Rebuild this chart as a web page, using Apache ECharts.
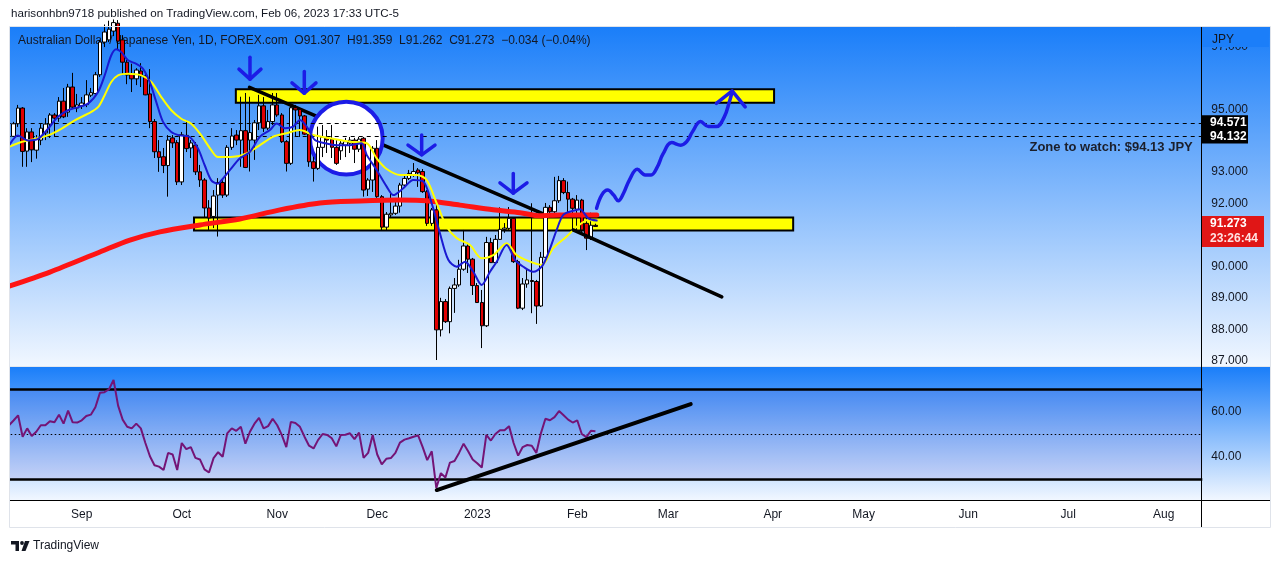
<!DOCTYPE html>
<html>
<head>
<meta charset="utf-8">
<script src="https://cdn.jsdelivr.net/npm/echarts@6/dist/echarts.min.js"></script>
<style>
html,body{margin:0;padding:0;background:#ffffff;}
#chart{width:1280px;height:563px;}
</style>
</head>
<body>
<div id="chart"></div>
<script>
// ---------------- DATA ----------------
const FONT = '"Liberation Sans", Arial, sans-serif';
const TEXT = '#131722';

// calendar of daily bars (weekdays) from first bar to the right edge of the view
function weekdays(startISO, count) {
  const out = [];
  const d = new Date(startISO + 'T00:00:00Z');
  while (out.length < count) {
    const w = d.getUTCDay();
    if (w !== 0 && w !== 6) out.push(d.toISOString().slice(0, 10));
    d.setUTCDate(d.getUTCDate() + 1);
  }
  return out;
}
const categories = weekdays('2022-08-10', 263);
const monthNames = ['Jan','Feb','Mar','Apr','May','Jun','Jul','Aug','Sep','Oct','Nov','Dec'];

// daily candles [open, high, low, close] (first bar hidden behind left border)
const ohlc = [
  null,
  [94.14,94.60,94.12,94.54],[94.54,95.14,94.44,95.04],[95.04,95.07,93.17,93.66],[93.67,94.40,93.17,94.28],
  [94.28,94.40,93.32,93.71],[93.70,94.18,93.43,94.06],[94.02,94.53,93.86,94.40],[94.25,94.72,94.02,94.53],
  [94.53,94.88,94.09,94.82],[94.82,94.88,94.12,94.72],[94.72,95.39,94.60,95.26],[95.26,95.68,94.72,94.76],
  [94.91,95.81,94.76,95.71],[95.71,96.16,95.01,95.07],[95.04,95.49,94.91,95.14],[95.11,95.39,95.01,95.20],
  [95.15,95.93,95.07,95.46],[95.45,95.68,95.39,95.53],[95.50,96.19,95.46,96.10],[96.10,97.21,96.03,97.14],
  [97.14,97.70,96.98,97.46],[97.21,97.82,97.14,97.55],[97.49,97.86,97.33,97.76],[97.74,97.84,96.89,97.17],
  [97.21,97.36,96.09,96.50],[96.50,96.57,95.80,96.09],[96.13,96.45,95.55,95.97],[95.97,96.31,95.77,96.25],
  [96.22,96.47,95.71,96.06],[96.06,96.19,95.45,95.46],[95.49,96.28,94.40,94.61],[94.61,94.69,93.45,93.65],
  [93.65,94.02,93.01,93.47],[93.49,93.77,92.97,93.21],[93.21,94.18,92.22,94.02],[94.09,94.18,93.77,93.93],
  [93.94,94.02,92.59,92.69],[92.69,94.28,92.59,94.19],[94.17,94.66,93.64,93.75],[93.77,94.02,93.45,93.93],
  [93.86,93.96,92.91,93.01],[93.01,93.23,92.53,92.75],[92.75,92.81,91.54,91.86],[91.86,92.11,91.16,91.54],
  [91.59,92.43,91.22,92.24],[92.27,92.81,90.95,92.67],[92.67,92.75,92.18,92.27],[92.27,93.86,92.21,93.79],
  [93.79,94.40,93.71,94.15],[94.18,94.34,93.86,94.02],[94.02,95.40,93.17,94.32],[94.32,95.52,93.13,93.15],
  [94.02,95.40,93.02,94.26],[94.02,94.66,93.39,94.57],[94.57,95.46,94.34,95.11],[95.11,95.39,94.28,94.40],
  [94.40,94.98,94.34,94.61],[94.61,95.52,94.50,95.14],[95.14,95.52,94.76,94.82],[94.82,94.88,93.93,93.97],
  [93.97,94.02,93.02,93.28],[93.28,95.11,93.23,95.05],[95.05,95.14,94.12,94.98],[95.00,95.04,94.12,94.79],
  [94.79,94.82,94.18,94.21],[94.21,94.25,93.17,93.33],[93.33,93.49,92.70,93.12],[93.12,94.45,93.07,93.79],
  [93.79,94.50,93.48,94.11],[94.11,94.34,93.61,94.02],[94.05,94.50,93.45,93.79],[93.79,94.02,93.23,93.28],
  [93.68,94.02,93.39,93.92],[93.86,94.09,93.48,93.97],[93.92,94.12,93.61,94.02],[94.02,94.09,93.29,93.73],
  [93.73,94.12,93.64,94.05],[94.08,94.12,92.22,92.43],[92.46,92.81,92.24,92.75],[92.75,93.83,92.37,93.76],
  [93.76,94.02,92.18,92.22],[92.22,92.27,91.16,91.25],[91.25,91.73,91.16,91.66],[91.64,92.38,91.57,91.69],
  [91.69,92.11,91.64,91.92],[91.92,92.66,91.71,92.59],[92.59,92.91,92.53,92.80],[92.80,93.07,92.75,92.96],
  [92.91,93.29,92.85,93.02],[93.07,93.13,92.53,92.98],[93.02,93.10,92.34,92.38],[92.38,92.43,91.29,91.37],
  [91.37,91.86,91.29,91.80],[91.80,92.06,87.02,87.98],[87.98,89.00,87.77,88.88],[88.88,88.96,88.20,88.24],
  [88.24,89.36,87.87,89.30],[89.30,89.63,88.52,89.41],[89.41,90.21,89.35,89.91],[89.91,91.16,89.86,90.65],
  [90.65,90.75,89.79,90.23],[90.23,90.27,89.09,89.39],[89.39,89.47,88.84,88.85],[88.85,89.25,87.40,88.11],
  [88.11,90.94,88.07,90.76],[90.76,90.91,90.11,90.12],[90.12,91.00,90.11,90.86],[90.86,91.88,90.84,91.18],
  [91.18,91.38,91.07,91.22],[91.21,91.89,91.16,91.53],[91.53,91.57,90.11,90.15],[90.15,90.21,88.64,88.67],
  [88.67,89.63,88.61,89.44],[89.44,89.89,89.32,89.57],[89.55,92.01,88.51,89.52],[89.52,89.57,88.17,88.74],
  [88.74,90.46,88.71,90.29],[90.29,92.02,90.27,91.88],[91.88,91.95,91.57,91.74],[91.74,92.85,91.54,92.09],
  [92.09,92.88,92.02,92.73],[92.73,92.81,92.30,92.35],[92.35,92.70,91.69,92.14],[92.14,92.18,91.16,91.85],
  [91.82,92.27,91.16,92.11],[92.11,92.15,91.07,91.16],[91.37,91.64,90.52,90.90],[90.90,91.71,90.84,91.31],
  [91.307,91.359,91.262,91.273]
];

// moving averages: [bar position, price]
const maFast = [[0.15,93.88],[1.98,94.17],[4.18,94.01],[6.38,94.06],[8.58,94.38],[10.78,94.76],[12.98,94.97],
  [15.18,95.07],[17.38,95.18],[19.58,95.55],[21.05,96.08],[22.5,96.72],[23.6,96.91],[24.7,96.82],[26.18,96.56],
  [28.0,96.45],[29.48,96.29],[30.95,95.87],[32.4,95.23],[33.88,94.60],[35.7,94.28],[37.55,94.17],[39.75,94.12],
  [41.57,93.75],[43.05,93.22],[44.5,92.74],[45.97,92.63],[46.79,92.75],[48.61,93.07],[50.81,93.44],[53.01,93.65],
  [55.21,94.13],[57.41,94.34],[58.89,94.55],[60.71,94.40],[62.54,94.45],[64.01,94.66],[65.49,94.45],[67.31,94.02],
  [69.51,93.92],[72.09,93.86],[75.01,93.86],[77.58,93.92],[78.68,93.55],[80.88,93.07],[83.08,92.54],[84.54,92.27],
  [86.74,92.49],[88.94,92.75],[91.14,92.70],[92.98,92.01],[94.81,91.05],[96.63,90.21],[98.48,89.99],[100.31,90.15],
  [102.13,89.83],[103.98,89.41],[105.81,89.83],[107.28,90.15],[109.48,90.68],[111.31,90.21],[113.13,89.99],
  [115.33,89.83],[117.18,89.99],[118.63,90.42],[120.48,91.16],[121.93,91.64],[124.13,91.77],[125.6,91.82],
  [127.43,91.53],[129.28,91.46]];
const maSlow = [[0.15,93.81],[2.71,93.96],[5.65,94.06],[8.58,94.17],[11.5,94.38],[14.45,94.65],[17.38,94.86],
  [19.58,95.07],[21.05,95.45],[22.5,95.87],[23.98,96.08],[26.18,96.13],[29.1,96.08],[31.3,95.87],[33.5,95.39],
  [35.7,94.97],[37.9,94.70],[40.1,94.54],[42.3,94.17],[44.5,93.70],[45.97,93.48],[49.34,93.49],[52.29,93.60],
  [55.21,93.86],[58.14,94.13],[61.09,94.24],[64.01,94.34],[66.94,94.18],[70.61,94.08],[75.01,93.97],[78.68,93.92],
  [80.88,93.44],[83.08,93.10],[86.01,92.91],[89.68,92.91],[91.88,92.75],[94.08,92.01],[96.28,91.26],[98.48,90.90],
  [101.41,90.68],[103.98,90.26],[106.53,90.36],[109.48,90.74],[111.68,90.36],[114.61,90.15],[117.18,90.05],
  [119.73,90.58],[122.68,90.95],[124.88,91.26],[127.43,91.48],[129.28,91.42]];
const ma200 = [[0.2,89.38],[9,89.82],[20,90.46],[26.6,90.84],[33.2,91.10],[42,91.32],[50.8,91.51],[59.6,91.80],
  [68.4,92.02],[77.2,92.08],[86,92.11],[91.9,92.09],[99.2,91.95],[106.5,91.80],[112.4,91.71],[116.8,91.61],
  [121.2,91.64],[129.3,91.64]];

// RSI per bar
const rsi = [53.9,56,58.3,48.8,52.5,49.1,51,53.9,53.9,55.7,
  55.2,58.6,54.6,60.4,55.2,55.1,56.1,58,58.6,61.9,
  68.3,68.6,69.9,74,62.6,56.4,53.2,52.5,54.6,52.5,
  46,40.1,36.1,35.5,34,41.6,40.9,34,46,43.3,
  44.2,39.4,38.7,34.3,32.9,39.3,41.9,39.9,50.3,52.5,
  51.4,53.2,45.7,51,54.6,57.2,52.5,53.5,56.8,53.9,
  49.6,44.2,55.4,54.9,53.2,48.8,44.8,43.6,47.4,50,
  49.6,48.1,44.5,49.6,49.7,50.3,47.7,50.6,39.4,41.6,
  49.6,40.9,36.5,39,39.3,41.6,46.2,47.5,48.1,48.8,
  49.4,44.2,38.4,42.3,26,32.6,30.7,37.3,38,41.6,
  45.7,42.3,38.7,37,35.1,49.6,47.1,50,51.7,51.7,
  53.5,46,40.4,44.2,45.1,44.8,41.6,50.3,56.8,56.1,
  57.5,60.2,58.3,56.4,55.1,56.1,50,48.6,51.4,51.2];

// axis ticks
const priceTicks = [87, 88, 89, 90, 92, 93, 95, 97];
const rsiTicks = [40, 60];
const rsiBands = [70, 50, 30];

// price levels / labels
const levels = [94.571, 94.132];
const lastPrice = 91.273;
const countdown = '23:26:44';

// drawings (bar position, price)
const zones = [[40.7, 172.5, 91.56, 91.14], [49.9, 168.3, 95.64, 95.21]];
const trendDown = [[52.9, 95.70], [117.9, 91.65]];
const trendLow = [[124.1, 91.16], [156.8, 89.03]];
const circleMark = [[74.2, 94.08, 8.0]];
const arrows = [
  {shaft: [[53.01,96.66],[53.01,95.96]], head: [[50.59,96.28],[53.01,95.96],[55.43,96.28]]},
  {shaft: [[64.96,96.20],[64.96,95.51]], head: [[62.25,95.84],[64.96,95.51],[67.53,95.84]]},
  {shaft: [[90.78,94.18],[90.78,93.55]], head: [[87.77,93.86],[90.78,93.55],[93.71,93.86]]},
  {shaft: [[110.93,92.96],[110.93,92.33]], head: [[108.0,92.66],[110.93,92.33],[113.95,92.66]]}
];
const wave = [[129.26,91.85],[130.38,92.27],[131.70,92.43],[133.0,92.27],[134.03,92.09],[135.18,92.33],
  [136.47,92.75],[138.21,93.09],[139.95,92.91],[141.25,92.91],[142.57,93.15],[143.87,93.58],[145.78,93.94],
  [147.78,93.86],[149.08,93.97],[150.37,94.29],[152.13,94.61],[153.87,94.45],[155.61,94.45],[157.35,94.76],
  [158.47,95.24],[159.08,95.56]];
const waveHead = [[155.61,95.19],[159.08,95.59],[161.94,95.08]];
const rsiTrend = [[94.1, 25.1], [149.96, 63.3]];
const zoneNote = {text: 'Zone to watch: $94.13 JPY', at: [260.4, 93.78]};

// ---------------- CHART ----------------
const chart = echarts.init(document.getElementById('chart'), null, {renderer: 'canvas'});

const monthStart = new Set();
for (let i = 1; i < categories.length; i++) {
  if (categories[i].slice(5, 7) !== categories[i - 1].slice(5, 7)) monthStart.add(i);
}
const candleData = ohlc.map(d => d ? [d[0], d[3], d[2], d[1]] : '-');

const GL = 6.73, GR = 77.7;
const BLUE = '#1c1ce6';

function lineSeries(name, data, color, width, z, extra) {
  return Object.assign({
    type: 'line', name, data, xAxisIndex: 1, yAxisIndex: 0, z,
    symbol: 'none', showSymbol: false, silent: true, animation: false,
    lineStyle: {color, width, cap: 'round', join: 'round'}
  }, extra || {});
}

const series = [
  {
    type: 'custom', name: 'zones', coordinateSystem: 'cartesian2d', xAxisIndex: 1, yAxisIndex: 0, z: 2,
    data: zones, encode: {x: [0, 1], y: [2, 3]}, silent: true,
    renderItem: (params, api) => {
      const a = api.coord([api.value(0), api.value(2)]);
      const b = api.coord([api.value(1), api.value(3)]);
      return {type: 'rect', shape: {x: a[0], y: a[1], width: b[0] - a[0], height: b[1] - a[1]},
        style: {fill: '#ffff00', stroke: '#000000', lineWidth: 2}};
    }
  },
  lineSeries('trendDown', trendDown, '#000000', 3.5, 3),
  {
    type: 'custom', name: 'circle', coordinateSystem: 'cartesian2d', xAxisIndex: 1, yAxisIndex: 0, z: 4,
    data: circleMark, encode: {x: 0, y: 1}, silent: true,
    renderItem: (params, api) => {
      const c = api.coord([api.value(0), api.value(1)]);
      const e = api.coord([api.value(0) + api.value(2), api.value(1)]);
      return {type: 'circle', shape: {cx: c[0], cy: c[1], r: e[0] - c[0]},
        style: {fill: '#ffffff', stroke: BLUE, lineWidth: 4}};
    }
  },
  {
    type: 'candlestick', name: 'AUDJPY', xAxisIndex: 0, yAxisIndex: 0, z: 5, data: candleData,
    barWidth: 4, silent: true,
    itemStyle: {color: '#ffffff', color0: '#e00000', borderColor: '#000000', borderColor0: '#000000', borderWidth: 1}
  },
  lineSeries('MA200', ma200, '#ff1414', 5, 6, {smooth: 0.3}),
  lineSeries('MA slow', maSlow, '#ffff00', 2, 6, {smooth: 0.3}),
  lineSeries('MA fast', maFast, '#1a1ad2', 2, 6, {smooth: 0.3,
    markLine: {silent: true, symbol: ['none', 'none'], label: {show: false},
      lineStyle: {color: '#000000', width: 1, type: [4, 4]},
      data: levels.map(v => ({yAxis: v}))}
  }),
  lineSeries('trendLow', trendLow, '#000000', 3.5, 10)
];
arrows.forEach((a, k) => {
  series.push(lineSeries('arrowShaft' + k, a.shaft, BLUE, 3.5, 10));
  series.push(lineSeries('arrowHead' + k, a.head, BLUE, 3.5, 10));
});
series.push(lineSeries('wave', wave, BLUE, 3.5, 10, {smooth: 0.4}));
series.push(lineSeries('waveHead', waveHead, BLUE, 3.5, 10));
series.push({
  type: 'line', name: 'RSI', data: rsi, xAxisIndex: 2, yAxisIndex: 1, z: 5,
  symbol: 'none', showSymbol: false, silent: true,
  lineStyle: {color: '#741476', width: 2},
  markArea: {silent: true, itemStyle: {color: 'rgba(126,87,194,0.13)'}, data: [[{yAxis: rsiBands[0]}, {yAxis: rsiBands[2]}]]},
  markLine: {silent: true, symbol: ['none', 'none'], label: {show: false},
    data: [
      {yAxis: rsiBands[0], lineStyle: {color: '#000000', width: 2.5, type: 'solid'}},
      {yAxis: rsiBands[1], lineStyle: {color: '#000000', width: 1, type: [1.5, 2.5]}},
      {yAxis: rsiBands[2], lineStyle: {color: '#000000', width: 2.5, type: 'solid'}}
    ]}
});
series.push({
  type: 'line', name: 'rsiTrend', data: rsiTrend, xAxisIndex: 3, yAxisIndex: 1, z: 10,
  symbol: 'none', silent: true, lineStyle: {color: '#000000', width: 4, cap: 'round'}
});

const axisLabelBase = {color: TEXT, fontSize: 12, fontFamily: FONT, margin: 9};

const option = {
  animation: false,
  backgroundColor: '#ffffff',
  grid: [
    {left: GL, right: GR, top: 27, height: 339},
    {left: GL, right: GR, top: 367, height: 133}
  ],
  xAxis: [
    {type: 'category', gridIndex: 0, data: categories, boundaryGap: true, show: false},
    {type: 'value', gridIndex: 0, min: -0.5, max: categories.length - 0.5, show: false},
    {type: 'category', gridIndex: 1, data: categories, boundaryGap: true, position: 'bottom',
      axisLine: {show: false}, axisTick: {show: false}, splitLine: {show: false},
      axisLabel: Object.assign({}, axisLabelBase, {
        interval: (i) => monthStart.has(i),
        formatter: (v) => { const m = +v.slice(5, 7); return m === 1 ? v.slice(0, 4) : monthNames[m - 1]; }
      })},
    {type: 'value', gridIndex: 1, min: -0.5, max: categories.length - 0.5, show: false}
  ],
  yAxis: [
    {type: 'value', gridIndex: 0, position: 'right', min: 86.83, max: 97.62,
      axisLine: {show: false}, axisTick: {show: false}, splitLine: {show: false},
      axisLabel: Object.assign({}, axisLabelBase, {customValues: priceTicks, formatter: v => Number(v).toFixed(3)})},
    {type: 'value', gridIndex: 1, position: 'right', min: 20.67, max: 79.78,
      axisLine: {show: false}, axisTick: {show: false}, splitLine: {show: false},
      axisLabel: Object.assign({}, axisLabelBase, {customValues: rsiTicks, formatter: v => Number(v).toFixed(2)})}
  ],
  series
};
chart.setOption(option);

// ---------- chrome, labels and notes (positions from the axes) ----------
const grad = () => new echarts.graphic.LinearGradient(0, 0, 0, 1, [
  {offset: 0, color: '#1a7ef9'}, {offset: 1, color: '#f1f7ff'}]);
const yOf = p => chart.convertToPixel({yAxisIndex: 0}, p);
const pt = (v, p) => chart.convertToPixel({xAxisIndex: 1, yAxisIndex: 0}, [v, p]);
function txt(x, y, text, font, fill, extra) {
  return Object.assign({type: 'text', x, y, z: 60,
    style: Object.assign({text, fill, font: font + ' ' + FONT, textVerticalAlign: 'middle', verticalAlign: 'middle'}, extra || {})});
}

const y1 = yOf(levels[0]), y2 = yOf(levels[1]), yl = yOf(lastPrice);
const note = pt(zoneNote.at[0], zoneNote.at[1]);

const elements = [
  {type: 'rect', z: -10, shape: {x: 10, y: 27, width: 1260, height: 339}, style: {fill: grad()}},
  {type: 'rect', z: -10, shape: {x: 10, y: 367, width: 1260, height: 133}, style: {fill: grad()}},
  {type: 'rect', z: -9, shape: {x: 10, y: 366, width: 1260, height: 1}, style: {fill: '#e3e7ee'}},
  {type: 'rect', z: 55, shape: {x: 0, y: 20, width: 9.5, height: 520}, style: {fill: '#ffffff'}},
  {type: 'rect', z: 56, shape: {x: 9.5, y: 26.5, width: 1261, height: 501}, style: {fill: 'none', stroke: '#dfe3ea', lineWidth: 1}},
  {type: 'line', z: 57, shape: {x1: 1201.5, y1: 27, x2: 1201.5, y2: 527}, style: {stroke: '#000000', lineWidth: 1}},
  {type: 'line', z: 57, shape: {x1: 10, y1: 500.5, x2: 1270, y2: 500.5}, style: {stroke: '#000000', lineWidth: 1}},
  // header and legend
  txt(11, 14, 'harisonhbn9718 published on TradingView.com, Feb 06, 2023 17:33 UTC-5', '11.6px', TEXT),
  Object.assign(txt(18, 41, 'Australian Dollar / Japanese Yen, 1D, FOREX.com  O91.307  H91.359  L91.262  C91.273  \u22120.034 (\u22120.04%)', '12px', TEXT), {z: 1}),
  // currency label over the top of the price scale
  {type: 'rect', z: 58, shape: {x: 1202.5, y: 27, width: 66.5, height: 20}, style: {fill: '#1b7ef9'}},
  txt(1212, 40, 'JPY', '12px', TEXT),
  // level labels on the price scale
  {type: 'rect', z: 59, shape: {x: 1202, y: y1 - 7.5, width: 46, height: (y2 - y1) + 14.5}, style: {fill: '#000000'}},
  txt(1210, y1, levels[0].toFixed(3), 'bold 12px', '#ffffff'),
  txt(1210, y2, levels[1].toFixed(3), 'bold 12px', '#ffffff'),
  {type: 'rect', z: 59, shape: {x: 1202, y: yl - 10.5, width: 62, height: 31}, style: {fill: '#e01616'}},
  txt(1210, yl - 2.5, lastPrice.toFixed(3), 'bold 12px', '#ffffff'),
  txt(1210, yl + 12, countdown, 'bold 12px', '#ffe3e3'),
  // note
  txt(note[0], note[1], zoneNote.text, 'bold 13px', '#1b1f2b', {textAlign: 'right', align: 'right'}),
  // footer logo
  {type: 'rect', z: 60, shape: {x: 11, y: 541, width: 8, height: 3.5}, style: {fill: TEXT}},
  {type: 'rect', z: 60, shape: {x: 15.5, y: 541, width: 3.5, height: 10}, style: {fill: TEXT}},
  {type: 'circle', z: 60, shape: {cx: 22, cy: 543, r: 1.9}, style: {fill: TEXT}},
  {type: 'polygon', z: 60, shape: {points: [[25, 541], [29.5, 541], [25.5, 551], [21.5, 551]]}, style: {fill: TEXT}},
  txt(33, 546, 'TradingView', '12px', TEXT)
];
chart.setOption({graphic: {elements}});
</script>
</body>
</html>
